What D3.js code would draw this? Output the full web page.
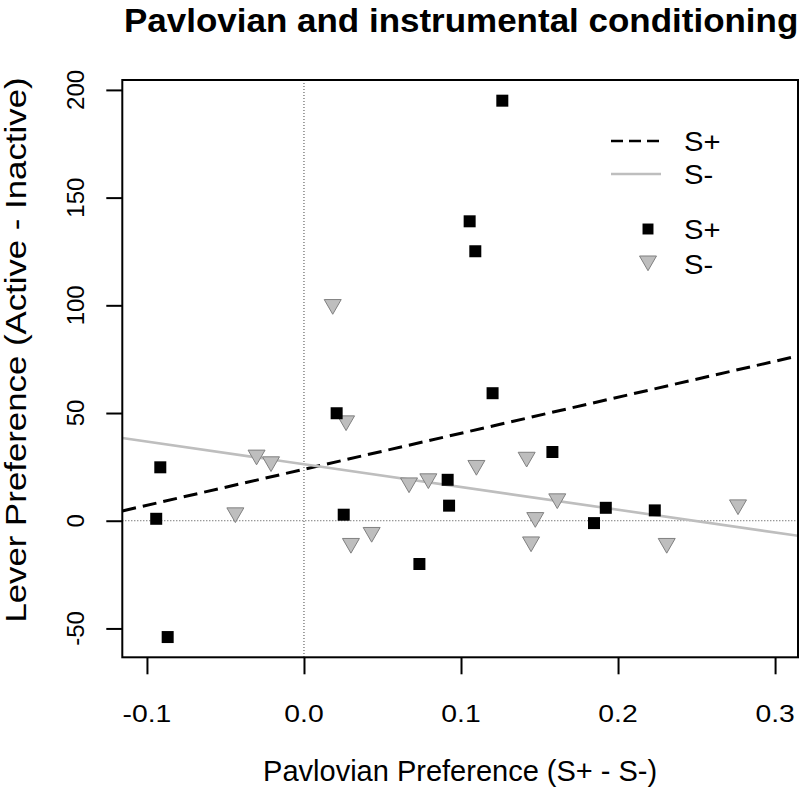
<!DOCTYPE html>
<html>
<head>
<meta charset="utf-8">
<script src="https://cdn.jsdelivr.net/npm/d3@7"></script>
<style>
  body { margin: 0; background: #fff; }
  svg { display: block; font-family: "Liberation Sans", Arial, Helvetica, sans-serif; }
</style>
</head>
<body>
<div id="chart"></div>
<script>
// Data
const sPlusX = [0.1263, 0.1055, 0.1091, 0.1201, 0.0208, -0.0915, -0.0941, -0.0868,
                0.0253, 0.0735, 0.0915, 0.0924, 0.1582, 0.1847, 0.1922, 0.2234];
const sPlusY = [195.0, 139.0, 125.1, 59.2, 49.9, 24.8, 0.9, -54.0,
                2.8, -20.1, 19.0, 7.0, 31.9, -1.1, 6.0, 4.8];

const sMinusX = [0.0183, 0.0268, -0.0302, -0.0210, -0.0437, 0.0669, 0.0792, 0.0299,
                 0.0431, 0.1098, 0.1418, 0.1613, 0.1473, 0.1446, 0.2310, 0.2764];
const sMinusY = [100.4, 46.4, 30.5, 27.4, 3.7, 17.6, 19.5, -10.5,
                 -5.4, 25.7, 29.5, 10.2, 1.5, -9.8, -10.5, 7.4];

// fitted lines (intercept, slope)
const fitNames = ["S+", "S-"];
const fitIntercept = [23.9, 26.2];
const fitSlope = [167.2, -105.5];

const xTicks = [-0.1, 0.0, 0.1, 0.2, 0.3];
const yTicks = [-50, 0, 50, 100, 150, 200];
const xDomain = [-0.1157, 0.3146];
const yDomain = [-63.4, 204.6];

const width = 802, height = 793;
const plot = { left: 122.3, right: 798, top: 80, bottom: 657.3 };

const svg = d3.select("#chart").append("svg")
    .attr("width", width)
    .attr("height", height);

const x = d3.scaleLinear().domain(xDomain).range([plot.left, plot.right]);
const y = d3.scaleLinear().domain(yDomain).range([plot.bottom, plot.top]);

svg.append("defs").append("clipPath").attr("id", "clip")
    .append("rect")
    .attr("x", plot.left).attr("y", plot.top)
    .attr("width", plot.right - plot.left).attr("height", plot.bottom - plot.top);

// reference lines at zero
svg.append("line")
    .attr("x1", x(0)).attr("x2", x(0))
    .attr("y1", plot.top).attr("y2", plot.bottom)
    .attr("stroke", "#444").attr("stroke-width", 1).attr("stroke-dasharray", "1,2");
svg.append("line")
    .attr("x1", plot.left).attr("x2", plot.right)
    .attr("y1", y(0)).attr("y2", y(0))
    .attr("stroke", "#444").attr("stroke-width", 1).attr("stroke-dasharray", "1,2");

// regression lines
const fitStyle = [
    { stroke: "#000", width: 3, dash: "14,7" },
    { stroke: "#bebebe", width: 2.6, dash: null }
];
const fits = svg.append("g").attr("clip-path", "url(#clip)");
fitNames.forEach((name, i) => {
    const f = v => fitIntercept[i] + fitSlope[i] * v;
    fits.append("line")
        .attr("x1", x(xDomain[0])).attr("y1", y(f(xDomain[0])))
        .attr("x2", x(xDomain[1])).attr("y2", y(f(xDomain[1])))
        .attr("stroke", fitStyle[i].stroke)
        .attr("stroke-width", fitStyle[i].width)
        .attr("stroke-dasharray", fitStyle[i].dash);
});

// points
const square = d3.symbol().type(d3.symbolSquare).size(144);
const triArea = 125;
const triangle = d3.symbol().type(d3.symbolTriangle).size(triArea);

svg.append("g").selectAll("path")
    .data(d3.zip(sMinusX, sMinusY))
    .join("path")
    .attr("d", triangle)
    .attr("transform", d => `translate(${x(d[0])},${y(d[1])}) rotate(180)`)
    .attr("fill", "#bebebe")
    .attr("stroke", "#808080")
    .attr("stroke-width", 1);

svg.append("g").selectAll("path")
    .data(d3.zip(sPlusX, sPlusY))
    .join("path")
    .attr("d", square)
    .attr("transform", d => `translate(${x(d[0])},${y(d[1])})`)
    .attr("fill", "#000");

// axes
const fmtX = v => d3.format(".1f")(v).replace("−", "-");
const fmtY = v => String(v);

const xAxis = svg.append("g")
    .attr("transform", `translate(0,${plot.bottom})`)
    .call(d3.axisBottom(x).tickValues(xTicks).tickSize(17).tickFormat(""));
const yAxis = svg.append("g")
    .attr("transform", `translate(${plot.left},0)`)
    .call(d3.axisLeft(y).tickValues(yTicks).tickSize(16).tickFormat(""));
[xAxis, yAxis].forEach(a => {
    a.select(".domain").remove();
    a.selectAll(".tick line").attr("stroke", "#000").attr("stroke-width", 2);
});

svg.append("g").selectAll("text")
    .data(xTicks)
    .join("text")
    .attr("transform", d => `translate(${x(d)},722) scale(1.18,1)`)
    .attr("text-anchor", "middle")
    .attr("font-size", 24)
    .text(fmtX);

svg.append("g").selectAll("text")
    .data(yTicks)
    .join("text")
    .attr("transform", d => `translate(84,${y(d)}) rotate(-90)`)
    .attr("text-anchor", "middle")
    .attr("font-size", 24)
    .text(fmtY);

// frame
svg.append("rect")
    .attr("x", plot.left).attr("y", plot.top)
    .attr("width", plot.right - plot.left).attr("height", plot.bottom - plot.top)
    .attr("fill", "none").attr("stroke", "#000").attr("stroke-width", 2);

// titles
svg.append("text")
    .attr("transform", `translate(${(plot.left + plot.right) / 2 + 1},32) scale(1.06,1)`)
    .attr("text-anchor", "middle")
    .attr("font-size", 33)
    .attr("font-weight", "bold")
    .text("Pavlovian and instrumental conditioning");

svg.append("text")
    .attr("x", (plot.left + plot.right) / 2)
    .attr("y", 781)
    .attr("text-anchor", "middle")
    .attr("font-size", 29)
    .text("Pavlovian Preference (S+ - S-)");

svg.append("text")
    .attr("transform", `translate(26,350) rotate(-90) scale(1.2,1)`)
    .attr("text-anchor", "middle")
    .attr("font-size", 29)
    .text("Lever Preference (Active - Inactive)");

// legend
const legend = svg.append("g");
fitNames.forEach((name, i) => {
    const ly = 141 + i * 33;
    legend.append("line")
        .attr("x1", 611).attr("x2", 661).attr("y1", ly).attr("y2", ly)
        .attr("stroke", fitStyle[i].stroke)
        .attr("stroke-width", 2.6)
        .attr("stroke-dasharray", i === 0 ? "12,6" : null);
    legend.append("text")
        .attr("transform", `translate(684,${ly + 10}) scale(1.08,1)`)
        .attr("font-size", 27)
        .text(name);
});
fitNames.forEach((name, i) => {
    const ly = 229 + i * 34.5;
    legend.append("path")
        .attr("d", i === 0 ? square.size(120)() : triangle.size(triArea)())
        .attr("transform", i === 0 ? `translate(648,${ly})` : `translate(648,${ly - 2.6}) rotate(180)`)
        .attr("fill", i === 0 ? "#000" : "#bebebe")
        .attr("stroke", i === 0 ? "none" : "#808080");
    legend.append("text")
        .attr("transform", `translate(684,${ly + 10}) scale(1.08,1)`)
        .attr("font-size", 27)
        .text(name);
});
</script>
</body>
</html>
